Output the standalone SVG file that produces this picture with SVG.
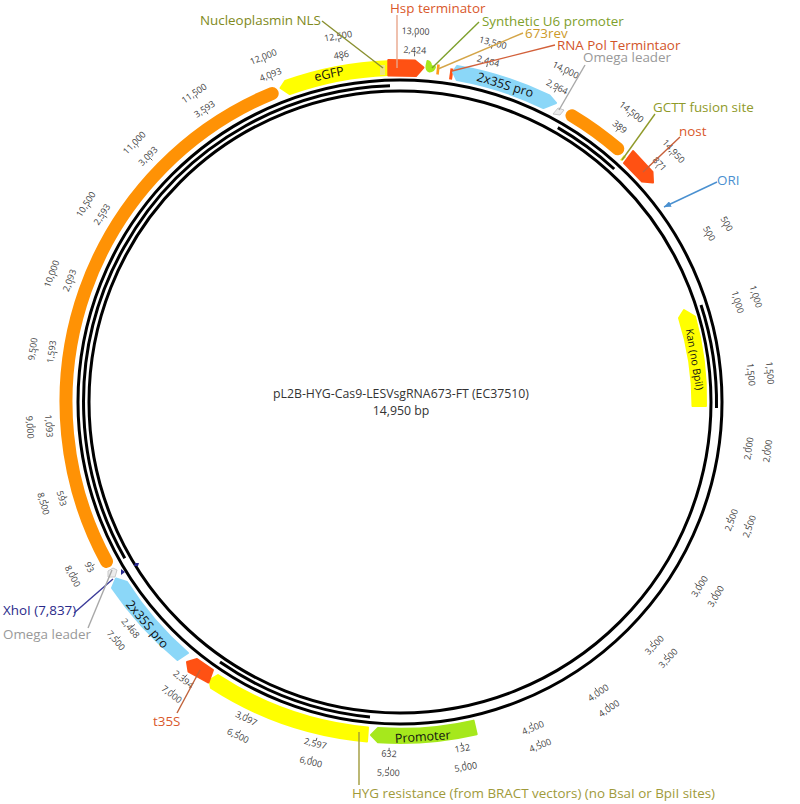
<svg xmlns="http://www.w3.org/2000/svg" width="800" height="804" viewBox="0 0 800 804">
<style>
text{font-family:"Open Sans","Noto Sans","Liberation Sans",sans-serif}
.ring{fill:none;stroke:#000;stroke-width:3}
.f{stroke-width:2;stroke-linejoin:round}
.o{fill:none;stroke:#ff9205;stroke-width:13;stroke-linecap:round}
.y{fill:#ffff00;stroke:#ffff00}
.r{fill:#ff5113;stroke:#ff5113}
.b{fill:#8bd7f8;stroke:#8bd7f8}
.g{fill:#a6e81c;stroke:#a6e81c}
.w{fill:#ececec;stroke:#c8c8c8;stroke-width:1}
.in{font-size:12.5px;fill:#111;text-anchor:middle}
.l{font-size:13.4px}
.n{font-size:9px;fill:#444;text-anchor:middle}
.k{stroke:#444;stroke-width:.8;fill:none}
.c{fill:none;stroke-width:1.4}
.t{font-size:12.3px;fill:#333;text-anchor:middle}
</style>
<defs><marker id="tip" markerWidth="7" markerHeight="6" refX="7" refY="3" orient="auto" markerUnits="userSpaceOnUse"><path d="M0 0L7 3L0 6Z" fill="#4a90d0"/></marker></defs>
<rect width="800" height="804" fill="#fff"/>
<g id="backbone">
<circle class="ring" cx="400" cy="402" r="322"/>
<circle class="ring" cx="400" cy="402" r="311"/>
<path class="ring" d="M124.8 558.3A316.5 316.5 0 0 1 390 85.7"/>
<path class="ring" d="M557.8 127.6A316.5 316.5 0 0 1 614.2 169"/>
<path class="ring" d="M701 305A316.5 316.5 0 0 1 716.5 408"/>
<path class="ring" d="M220 662A316.5 316.5 0 0 0 370 717"/>
</g>
<g id="orange-large"><path class="o" d="M106.5 561.4A334 334 0 0 1 272.2 93.4"/></g>
<g id="eGFP"><path class="f y" d="M387.7 61.2A341 341 0 0 0 285.1 81L280.5 88L289.8 94.1A327 327 0 0 1 388.3 75Z"/><text class="in" transform="translate(330 78) rotate(-12)">eGFP</text></g>
<g id="nucleoplasmin-nls"><rect x="380" y="65" width="5" height="10" fill="#eee680"/><text class="l" x="200" y="25" fill="#808a21">Nucleoplasmin NLS</text></g>
<g id="hsp-terminator"><path class="f r" d="M388.3 60L415 60.5L423.5 67.5L416 76L388.3 75.5Z"/><text class="l" x="390" y="13" fill="#d9582b">Hsp terminator</text></g>
<g id="synthetic-u6"><path class="f g" d="M427.5 61Q431 62 431 66L435 67Q434 71 429.5 71.5Q426 70 426.5 66Z"/><text class="l" x="482" y="26" fill="#7ea02c">Synthetic U6 promoter</text></g>
<g id="rev673"><path d="M438.5 64.5L437.5 74.5" stroke="#ff9a1a" stroke-width="2.6" fill="none"/><text class="l" x="525" y="38" fill="#cc9a2a">673rev</text></g>
<g id="rna-pol-terminator"><path d="M452 68.5L450.5 79.5" stroke="#ff5113" stroke-width="3" fill="none"/><text class="l" x="557" y="50" fill="#d2552a">RNA Pol Termintaor</text></g>
<g id="pro-top"><path class="f b" d="M457 66A341 341 0 0 1 549.5 95.5L556 103L543.4 108.1A327 327 0 0 0 456.8 80L453 72Z"/><text class="in" transform="translate(504 89) rotate(17)">2x35S pro</text></g>
<g id="omega-top"><path class="w" d="M558 108L564 110L560 115L553 114Z"/><text class="l" x="583" y="62" fill="#999">Omega leader</text></g>
<g id="orange-right"><path class="o" d="M572 115.7A334 334 0 0 1 617.8 148.8"/></g>
<g id="gctt"><path d="M620 160L624 155L626 157L622 161Z" fill="#e8e82a"/><text class="l" x="653" y="112" fill="#8f9a2a">GCTT fusion site</text></g>
<g id="nost"><path class="f r" d="M633 151L652.5 172L653 182.5L642 181.5L624 163Z"/><text class="l" x="679" y="136" fill="#d9582b">nost</text></g>
<g id="ori"><text class="l" x="717" y="185" fill="#4a8fd0">ORI</text></g>
<g id="kan"><path class="f y" d="M684 310L695 316.5A306 306 0 0 1 706 406L692.5 406A292 292 0 0 0 679 318Z"/><text class="in" style="font-size:10.5px" transform="translate(691 360) rotate(80)">Kan (no BpiI)</text></g>
<g id="promoter"><path class="f g" d="M371 735L378 728A327 327 0 0 0 473.6 720.6L476.7 734.3A341 341 0 0 1 378 742.3Z"/><text class="in" transform="translate(423 741) rotate(-4)">Promoter</text></g>
<g id="hyg"><path class="f y" d="M218 675A327 327 0 0 0 368 727.5L367 741.5A341 341 0 0 1 211 688L209.5 680Z"/><text class="l" x="352" y="798" fill="#a09a3a">HYG resistance (from BRACT vectors) (no BsaI or BpiI sites)</text></g>
<g id="t35s"><path class="f r" d="M187 662L197 659L213 670L208.5 682.5L188.5 671.5Z"/><text class="l" x="153" y="726" fill="#d9582b">t35S</text></g>
<g id="pro-bottom"><path class="f b" d="M116 578.5L127 582A327 327 0 0 0 188 653L177.5 660A341 341 0 0 1 112 588Z"/><text class="in" transform="translate(144 627) rotate(50)">2x35S pro</text></g>
<g id="omega-bottom"><path class="w" d="M108 571L113 568L117 570L115 577L108 577Z"/><text class="l" x="3" y="639" fill="#999">Omega leader</text></g>
<g id="xhoi"><path d="M121 569L125 572L121 575Z" fill="#2a2a90"/><path d="M135 563L139 563L138 566L134 566Z" fill="#2a2a90"/><text class="l" x="3" y="615" fill="#2a2a8a">XhoI (7,837)</text></g>
<g id="title"><text class="t" x="401" y="398">pL2B-HYG-Cas9-LESVsgRNA673-FT (EC37510)</text><text class="t" x="401" y="415">14,950 bp</text></g>
<g id="ticks">
<g transform="rotate(61.4 400 402) translate(400 30)"><text class="n" y="3">500</text><path class="k" d="M0 3V6"/></g>
<g transform="rotate(61.4 400 402) translate(400 50)"><text class="n" y="3">500</text><path class="k" d="M0 3V6"/></g>
<g transform="rotate(73.5 400 402) translate(400 31)"><text class="n" y="3">1,000</text><path class="k" d="M0 3V6"/></g>
<g transform="rotate(73.5 400 402) translate(400 50)"><text class="n" y="3">1,000</text><path class="k" d="M0 3V6"/></g>
<g transform="rotate(85.5 400 402) translate(400 31)"><text class="n" y="3">1,500</text><path class="k" d="M0 3V6"/></g>
<g transform="rotate(85.5 400 402) translate(400 50)"><text class="n" y="3">1,500</text><path class="k" d="M0 3V6"/></g>
<g transform="rotate(97.6 400 402) translate(400 31) rotate(180)"><text class="n" y="3">2,000</text><path class="k" d="M0-3V-6"/></g>
<g transform="rotate(97.6 400 402) translate(400 50) rotate(180)"><text class="n" y="3">2,000</text><path class="k" d="M0-3V-6"/></g>
<g transform="rotate(109.6 400 402) translate(400 31) rotate(180)"><text class="n" y="3">2,500</text><path class="k" d="M0-3V-6"/></g>
<g transform="rotate(109.6 400 402) translate(400 50) rotate(180)"><text class="n" y="3">2,500</text><path class="k" d="M0-3V-6"/></g>
<g transform="rotate(121.6 400 402) translate(400 31) rotate(180)"><text class="n" y="3">3,000</text><path class="k" d="M0-3V-6"/></g>
<g transform="rotate(121.6 400 402) translate(400 50) rotate(180)"><text class="n" y="3">3,000</text><path class="k" d="M0-3V-6"/></g>
<g transform="rotate(133.7 400 402) translate(400 31) rotate(180)"><text class="n" y="3">3,500</text><path class="k" d="M0-3V-6"/></g>
<g transform="rotate(133.7 400 402) translate(400 50) rotate(180)"><text class="n" y="3">3,500</text><path class="k" d="M0-3V-6"/></g>
<g transform="rotate(145.7 400 402) translate(400 31) rotate(180)"><text class="n" y="3">4,000</text><path class="k" d="M0-3V-6"/></g>
<g transform="rotate(145.7 400 402) translate(400 50) rotate(180)"><text class="n" y="3">4,000</text><path class="k" d="M0-3V-6"/></g>
<g transform="rotate(157.8 400 402) translate(400 31) rotate(180)"><text class="n" y="3">4,500</text><path class="k" d="M0-3V-6"/></g>
<g transform="rotate(157.8 400 402) translate(400 50) rotate(180)"><text class="n" y="3">4,500</text><path class="k" d="M0-3V-6"/></g>
<g transform="rotate(169.8 400 402) translate(400 31) rotate(180)"><text class="n" y="3">5,000</text><path class="k" d="M0-3V-6"/></g>
<g transform="rotate(169.8 400 402) translate(400 50) rotate(180)"><text class="n" y="3">132</text><path class="k" d="M0-3V-6"/></g>
<g transform="rotate(181.8 400 402) translate(400 31) rotate(180)"><text class="n" y="3">5,500</text><path class="k" d="M0-3V-6"/></g>
<g transform="rotate(181.8 400 402) translate(400 50) rotate(180)"><text class="n" y="3">632</text><path class="k" d="M0-3V-6"/></g>
<g transform="rotate(193.9 400 402) translate(400 31) rotate(180)"><text class="n" y="3">6,000</text><path class="k" d="M0-3V-6"/></g>
<g transform="rotate(193.9 400 402) translate(400 50) rotate(180)"><text class="n" y="3">2,597</text><path class="k" d="M0-3V-6"/></g>
<g transform="rotate(205.9 400 402) translate(400 31) rotate(180)"><text class="n" y="3">6,500</text><path class="k" d="M0-3V-6"/></g>
<g transform="rotate(205.9 400 402) translate(400 50) rotate(180)"><text class="n" y="3">3,097</text><path class="k" d="M0-3V-6"/></g>
<g transform="rotate(218 400 402) translate(400 31) rotate(180)"><text class="n" y="3">7,000</text><path class="k" d="M0-3V-6"/></g>
<g transform="rotate(218 400 402) translate(400 50) rotate(180)"><text class="n" y="3">2,394</text><path class="k" d="M0-3V-6"/></g>
<g transform="rotate(230 400 402) translate(400 31) rotate(180)"><text class="n" y="3">7,500</text><path class="k" d="M0-3V-6"/></g>
<g transform="rotate(230 400 402) translate(400 50) rotate(180)"><text class="n" y="3">2,468</text><path class="k" d="M0-3V-6"/></g>
<g transform="rotate(242 400 402) translate(400 31) rotate(180)"><text class="n" y="3">8,000</text><path class="k" d="M0-3V-6"/></g>
<g transform="rotate(242 400 402) translate(400 50) rotate(180)"><text class="n" y="3">93</text><path class="k" d="M0-3V-6"/></g>
<g transform="rotate(254.1 400 402) translate(400 31) rotate(180)"><text class="n" y="3">8,500</text><path class="k" d="M0-3V-6"/></g>
<g transform="rotate(254.1 400 402) translate(400 50) rotate(180)"><text class="n" y="3">593</text><path class="k" d="M0-3V-6"/></g>
<g transform="rotate(266.1 400 402) translate(400 31) rotate(180)"><text class="n" y="3">9,000</text><path class="k" d="M0-3V-6"/></g>
<g transform="rotate(266.1 400 402) translate(400 50) rotate(180)"><text class="n" y="3">1,093</text><path class="k" d="M0-3V-6"/></g>
<g transform="rotate(278.2 400 402) translate(400 31)"><text class="n" y="3">9,500</text><path class="k" d="M0 3V6"/></g>
<g transform="rotate(278.2 400 402) translate(400 50)"><text class="n" y="3">1,593</text><path class="k" d="M0 3V6"/></g>
<g transform="rotate(290.2 400 402) translate(400 31)"><text class="n" y="3">10,000</text><path class="k" d="M0 3V6"/></g>
<g transform="rotate(290.2 400 402) translate(400 50)"><text class="n" y="3">2,093</text><path class="k" d="M0 3V6"/></g>
<g transform="rotate(302.2 400 402) translate(400 31)"><text class="n" y="3">10,500</text><path class="k" d="M0 3V6"/></g>
<g transform="rotate(302.2 400 402) translate(400 50)"><text class="n" y="3">2,593</text><path class="k" d="M0 3V6"/></g>
<g transform="rotate(314.3 400 402) translate(400 31)"><text class="n" y="3">11,000</text><path class="k" d="M0 3V6"/></g>
<g transform="rotate(314.3 400 402) translate(400 50)"><text class="n" y="3">3,093</text><path class="k" d="M0 3V6"/></g>
<g transform="rotate(326.3 400 402) translate(400 31)"><text class="n" y="3">11,500</text><path class="k" d="M0 3V6"/></g>
<g transform="rotate(326.3 400 402) translate(400 50)"><text class="n" y="3">3,593</text><path class="k" d="M0 3V6"/></g>
<g transform="rotate(338.4 400 402) translate(400 31)"><text class="n" y="3">12,000</text><path class="k" d="M0 3V6"/></g>
<g transform="rotate(338.4 400 402) translate(400 50)"><text class="n" y="3">4,093</text><path class="k" d="M0 3V6"/></g>
<g transform="rotate(350.4 400 402) translate(400 31)"><text class="n" y="3">12,500</text><path class="k" d="M0 3V6"/></g>
<g transform="rotate(350.4 400 402) translate(400 50)"><text class="n" y="3">486</text><path class="k" d="M0 3V6"/></g>
<g transform="rotate(2.4 400 402) translate(400 31)"><text class="n" y="3">13,000</text><path class="k" d="M0 3V6"/></g>
<g transform="rotate(2.4 400 402) translate(400 50)"><text class="n" y="3">2,424</text><path class="k" d="M0 3V6"/></g>
<g transform="rotate(14.5 400 402) translate(400 31)"><text class="n" y="3">13,500</text><path class="k" d="M0 3V6"/></g>
<g transform="rotate(14.5 400 402) translate(400 50)"><text class="n" y="3">2,464</text><path class="k" d="M0 3V6"/></g>
<g transform="rotate(26.5 400 402) translate(400 31)"><text class="n" y="3">14,000</text><path class="k" d="M0 3V6"/></g>
<g transform="rotate(26.5 400 402) translate(400 50)"><text class="n" y="3">2,964</text><path class="k" d="M0 3V6"/></g>
<g transform="rotate(38.6 400 402) translate(400 31)"><text class="n" y="3">14,500</text><path class="k" d="M0 3V6"/></g>
<g transform="rotate(38.6 400 402) translate(400 50)"><text class="n" y="3">389</text><path class="k" d="M0 3V6"/></g>
<g transform="rotate(47.5 400 402) translate(400 31)"><text class="n" y="3">14,950</text><path class="k" d="M0 3V6"/></g>
<g transform="rotate(47.5 400 402) translate(400 50)"><text class="n" y="3">871</text><path class="k" d="M0 3V6"/></g>
</g>
<g id="connectors">
<path class="c" stroke="#8a9030" d="M322 21L383 68"/>
<path class="c" stroke="#e8a68c" d="M397 15V68"/>
<path class="c" stroke="#7ea02c" d="M479 22L432 68"/>
<path class="c" stroke="#d4a548" d="M523 33L438 69"/>
<path class="c" stroke="#d2603a" d="M555 45L452 71"/>
<path class="c" stroke="#a8a8a8" d="M585 65L559 110"/>
<path class="c" stroke="#8f9a2a" d="M655 114L622 160"/>
<path class="c" stroke="#c8603a" d="M680 137L643 172"/>
<path class="c" stroke="#4a90d0" marker-end="url(#tip)" d="M717 182L664 207"/>
<path class="c" stroke="#3a3a99" d="M74 613L113 579"/>
<path class="c" stroke="#a8a8a8" d="M88 628L112 570"/>
<path class="c" stroke="#c0623a" d="M200 670L177 713"/>
<path class="c" stroke="#a09a3a" d="M359 785V732"/>
</g>
</svg>
